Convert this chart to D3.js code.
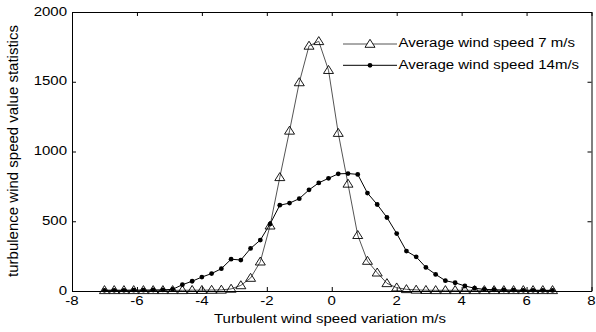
<!DOCTYPE html>
<html>
<head>
<meta charset="utf-8">
<script src="https://cdn.jsdelivr.net/npm/d3@7"></script>
<style>
  body { margin: 0; background: #fff; }
  text { font-family: "Liberation Sans", Arial, sans-serif; fill: #000; }
</style>
</head>
<body>
<div id="chart"></div>
<script>
// wind speed variation (m/s), one value per bin
const variation = [-7.0, -6.7, -6.4, -6.1, -5.8, -5.5, -5.2, -4.9, -4.6, -4.3,
  -4.0, -3.7, -3.4, -3.1, -2.8, -2.5, -2.2, -1.9, -1.6, -1.3,
  -1.0, -0.7, -0.4, -0.1, 0.2, 0.5, 0.8, 1.1, 1.4, 1.7,
  2.0, 2.3, 2.6, 2.9, 3.2, 3.5, 3.8, 4.1, 4.4, 4.7,
  5.0, 5.3, 5.6, 5.9, 6.2, 6.5, 6.8];

// counts, average wind speed 7 m/s
const speed7 = [5, 5, 5, 5, 5, 5, 5, 5, 5, 6,
  6, 7, 8, 15, 40, 93, 210, 468, 815, 1148,
  1495, 1757, 1790, 1583, 1132, 768, 400, 215, 131, 55,
  24, 12, 8, 6, 5, 5, 5, 5, 5, 5,
  5, 5, 5, 5, 5, 5, 5];

// counts, average wind speed 14 m/s
const speed14 = [5, 5, 5, 6, 6, 7, 8, 12, 45, 70,
  100, 125, 160, 228, 222, 305, 365, 480, 615, 630,
  662, 725, 775, 808, 840, 842, 836, 702, 620, 527,
  412, 286, 245, 169, 119, 74, 59, 36, 20, 12,
  9, 7, 6, 5, 5, 4, 4];

const legendLabels = ["Average wind speed 7 m/s", "Average wind speed 14m/s"];
const xTicks = [-8, -6, -4, -2, 0, 2, 4, 6, 8];
const yTicks = [0, 500, 1000, 1500, 2000];

const width = 596, height = 332;
const plotLeft = 72, plotRight = 591.5, plotTop = 12, plotBottom = 291;
const squash = "scale(1,0.8)";   // the picture is flattened vertically

const svg = d3.select("#chart").append("svg")
  .attr("width", width)
  .attr("height", height);

const x = d3.scaleLinear().domain([-8, 8]).range([plotLeft, plotRight]);
const y = d3.scaleLinear().domain([0, 2000]).range([plotBottom, plotTop]);

// axes, MATLAB style: ticks inside on all four sides
const tick = 4;
svg.append("g").attr("transform", `translate(0,${plotBottom})`)
  .call(d3.axisBottom(x).tickValues(xTicks).tickSizeInner(-tick).tickSizeOuter(0).tickFormat(""));
svg.append("g").attr("transform", `translate(0,${plotTop})`)
  .call(d3.axisTop(x).tickValues(xTicks).tickSizeInner(-tick).tickSizeOuter(0).tickFormat(""));
svg.append("g").attr("transform", `translate(${plotLeft},0)`)
  .call(d3.axisLeft(y).tickValues(yTicks).tickSizeInner(-tick).tickSizeOuter(0).tickFormat(""));
svg.append("g").attr("transform", `translate(${plotRight},0)`)
  .call(d3.axisRight(y).tickValues(yTicks).tickSizeInner(-tick).tickSizeOuter(0).tickFormat(""));
svg.selectAll(".domain, .tick line").attr("stroke", "#000").attr("stroke-width", 1);

// tick labels
svg.selectAll(".xlab").data(xTicks).enter().append("text")
  .attr("transform", d => `translate(${x(d)},305) ${squash}`)
  .attr("text-anchor", "middle")
  .style("font-size", "15px")
  .text(d => d);

svg.selectAll(".ylab").data(yTicks).enter().append("text")
  .attr("transform", d => `translate(67,${y(d) + 3.6}) ${squash}`)
  .attr("text-anchor", "end")
  .style("font-size", "15px")
  .text(d => d);

// axis titles
svg.append("text")
  .attr("transform", `translate(330,323) ${squash}`)
  .attr("text-anchor", "middle")
  .style("font-size", "15px")
  .text("Turbulent wind speed variation m/s");

svg.append("text")
  .attr("transform", "translate(18,151) rotate(-90)")
  .attr("text-anchor", "middle")
  .style("font-size", "15px")
  .text("turbulence wind speed value statistics");

const line = d3.line().x((d, i) => x(variation[i])).y(d => y(d));
const triangle = "M0,-4.7L5,3.3L-5,3.3Z";

// 7 m/s series: grey line, hollow triangles
svg.append("path").datum(speed7)
  .attr("d", line)
  .attr("fill", "none")
  .attr("stroke", "#555")
  .attr("stroke-width", 1);
svg.selectAll(".tri").data(speed7).enter().append("path")
  .attr("d", triangle)
  .attr("transform", (d, i) => `translate(${x(variation[i])},${y(d)})`)
  .attr("fill", "none")
  .attr("stroke", "#000")
  .attr("stroke-width", 0.9);

// 14 m/s series: black line, filled dots
svg.append("path").datum(speed14)
  .attr("d", line)
  .attr("fill", "none")
  .attr("stroke", "#000")
  .attr("stroke-width", 1);
svg.selectAll(".dot").data(speed14).enter().append("circle")
  .attr("cx", (d, i) => x(variation[i]))
  .attr("cy", d => y(d))
  .attr("r", 2.4)
  .attr("fill", "#000");

// legend
const legendY = [44, 65.3];
legendLabels.forEach((label, i) => {
  svg.append("line")
    .attr("x1", 343).attr("x2", 397)
    .attr("y1", legendY[i]).attr("y2", legendY[i])
    .attr("stroke", i === 0 ? "#555" : "#000")
    .attr("stroke-width", 1);
  if (i === 0) {
    svg.append("path")
      .attr("d", triangle)
      .attr("transform", `translate(370,${legendY[i]})`)
      .attr("fill", "#fff")
      .attr("stroke", "#000")
      .attr("stroke-width", 0.9);
  } else {
    svg.append("circle")
      .attr("cx", 370).attr("cy", legendY[i]).attr("r", 2.4)
      .attr("fill", "#000");
  }
  svg.append("text")
    .attr("transform", `translate(398.5,${legendY[i] + 3.4}) ${squash}`)
    .style("font-size", "15px")
    .text(label);
});
</script>
</body>
</html>
